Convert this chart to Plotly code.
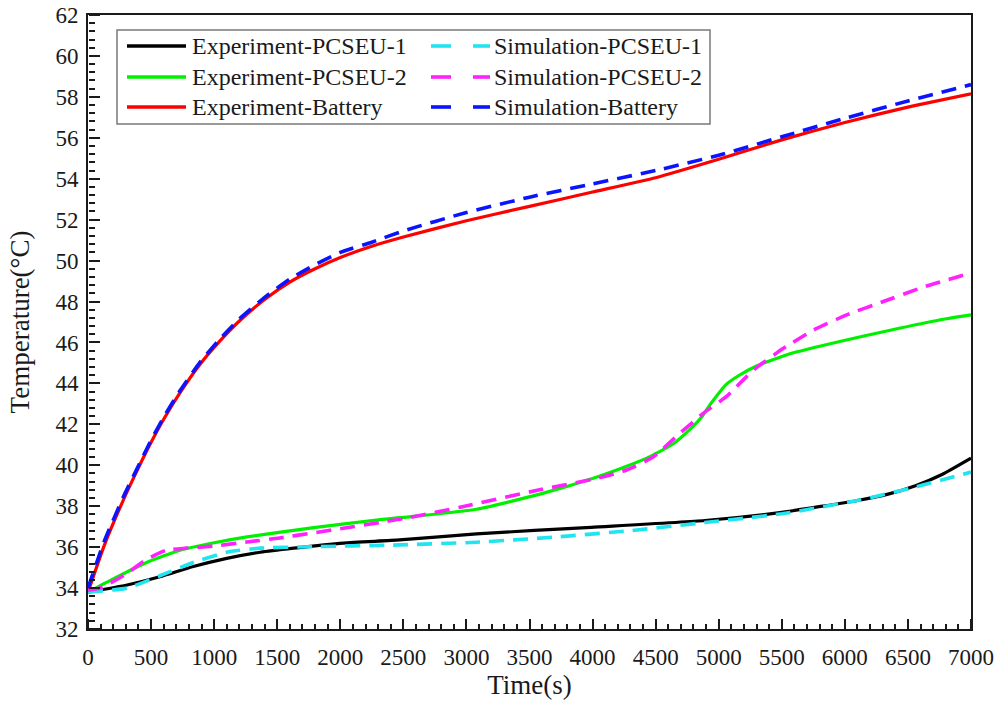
import plotly.graph_objects as go

# Time (s) and temperature (°C) series
t_exp_bat = [0, 130, 280, 390, 490, 600, 730, 890, 1050, 1200, 1400, 1600, 1800, 2000, 2250,
             2500, 3000, 3500, 4000, 4500, 5000, 5500, 6000, 6500, 7000]
T_exp_bat = [33.8, 36.1, 38.3, 39.75, 41.0, 42.25, 43.55, 44.95, 46.1, 47.05, 48.1, 48.95, 49.6, 50.15, 50.7,
             51.15, 51.95, 52.65, 53.35, 54.05, 54.95, 55.9, 56.75, 57.5, 58.15]

t_sim_bat = [0, 130, 280, 390, 490, 600, 730, 890, 1050, 1200, 1400, 1600, 1800, 2000, 2250,
             2500, 3000, 3500, 4000, 4500, 5000, 5500, 6000, 6500, 7000]
T_sim_bat = [34.0, 36.3, 38.45, 39.85, 41.1, 42.35, 43.65, 45.05, 46.2, 47.15, 48.2, 49.1, 49.8, 50.4, 50.9,
             51.45, 52.35, 53.1, 53.75, 54.4, 55.15, 56.05, 56.95, 57.8, 58.6]

t_exp_2 = [0, 200, 465, 730, 990, 1260, 1790, 2320, 2500, 3080, 3590, 4000, 4250, 4455, 4640, 4780,
           4870, 4930, 4985, 5060, 5150, 5300, 5565, 5960, 6360, 6750, 7000]
T_exp_2 = [33.8, 34.45, 35.25, 35.85, 36.2, 36.5, 36.95, 37.35, 37.45, 37.85, 38.6, 39.35, 39.9, 40.42,
           41.05, 41.8, 42.4, 42.95, 43.4, 43.95, 44.35, 44.85, 45.45, 46.05, 46.6, 47.1, 47.35]

t_sim_2 = [0, 95, 280, 465, 620, 780, 990, 1260, 1520, 1790, 2050, 2315, 2550, 2950, 3580, 4030, 4270,
           4480, 4690, 4880, 5060, 5275, 5510, 5750, 6015, 6305, 6620, 7000]
T_sim_2 = [33.9, 34.0, 34.6, 35.4, 35.85, 35.95, 36.05, 36.25, 36.45, 36.7, 36.95, 37.2, 37.45, 37.95,
           38.8, 39.35, 39.77, 40.4, 41.55, 42.55, 43.35, 44.65, 45.7, 46.6, 47.35, 48.0, 48.7, 49.4]

t_exp_1 = [0, 310, 570, 835, 1100, 1365, 1630, 2025, 2470, 3080, 3990, 4890, 5500, 6100, 6350, 6560, 6770, 7000]
T_exp_1 = [33.8, 34.15, 34.55, 35.05, 35.45, 35.75, 35.95, 36.2, 36.35, 36.65, 36.97, 37.3, 37.7, 38.28,
           38.6, 39.0, 39.55, 40.35]

t_sim_1 = [0, 310, 570, 835, 1100, 1365, 1760, 2420, 3080, 3680, 4290, 4890, 5500, 6100, 6560, 7000]
T_sim_1 = [33.8, 34.0, 34.6, 35.25, 35.75, 35.95, 36.02, 36.1, 36.24, 36.48, 36.8, 37.2, 37.63, 38.28,
           38.94, 39.67]

X_RANGE = [0, 7000]
Y_RANGE = [32, 62]

FONT = "Liberation Serif, Times New Roman, serif"
INK = "#1a1a1a"
DASH = "15px,9px"

series = [
    ("Experiment-PCSEU-1", t_exp_1, T_exp_1, "#000000", "solid"),
    ("Experiment-PCSEU-2", t_exp_2, T_exp_2, "#00f000", "solid"),
    ("Experiment-Battery", t_exp_bat, T_exp_bat, "#ff0000", "solid"),
    ("Simulation-PCSEU-1", t_sim_1, T_sim_1, "#22e4f0", DASH),
    ("Simulation-PCSEU-2", t_sim_2, T_sim_2, "#ff22ff", DASH),
    ("Simulation-Battery", t_sim_bat, T_sim_bat, "#0a14ff", DASH),
]

# experiment curves first, dashed simulation curves on top
fig = go.Figure()
for name, tx, ty, color, dash in series:
    fig.add_trace(go.Scatter(
        x=tx, y=ty, mode="lines", name=name, showlegend=False,
        line=dict(color=color, width=3.2 if dash == "solid" else 3.6, dash=dash,
                  shape="spline", smoothing=0.5),
    ))

# empty trace that carries the tick-only overlay axes
fig.add_trace(go.Scatter(x=[], y=[], xaxis="x2", yaxis="y2", showlegend=False, hoverinfo="skip"))

# plot area in pixels
L, R, T, B = 88, 971, 15, 629
W, H = R - L, B - T


def px(x):
    return (x - L) / W


def py(y):
    return (B - y) / H


# two-column legend box
shapes = [dict(type="rect", xref="paper", yref="paper",
               x0=px(117), x1=px(710), y0=py(124), y1=py(30),
               line=dict(color="#7a7a7a", width=1.5), fillcolor="white", layer="above")]
annotations = []
rows = [46, 77, 107]
for i, (name, tx, ty, color, dash) in enumerate(series):
    col = i // 3
    yy = py(rows[i % 3])
    if col == 0:
        shapes.append(dict(type="line", xref="paper", yref="paper", x0=px(127), x1=px(186),
                           y0=yy, y1=yy, line=dict(color=color, width=3.6), layer="above"))
        tx0 = 190
    else:
        for a, b in [(431, 451), (473, 490)]:
            shapes.append(dict(type="line", xref="paper", yref="paper", x0=px(a), x1=px(b),
                               y0=yy, y1=yy, line=dict(color=color, width=3.6), layer="above"))
        tx0 = 492
    annotations.append(dict(xref="paper", yref="paper", x=px(tx0), y=yy, xanchor="left",
                            yanchor="middle", text=name, showarrow=False,
                            font=dict(family=FONT, size=24, color=INK)))

tick_style = dict(tickwidth=2, tickcolor=INK)

fig.update_layout(
    width=998, height=702,
    margin=dict(l=L, r=998 - R, t=T, b=702 - B, autoexpand=False),
    paper_bgcolor="white", plot_bgcolor="white",
    # labelled frame axes
    xaxis=dict(range=X_RANGE, tick0=0, dtick=500, ticks="",
               showline=True, linecolor=INK, linewidth=2, mirror=True,
               showgrid=False, zeroline=False, automargin=False, ticklabelstandoff=6,
               tickfont=dict(family=FONT, size=23, color=INK),
               title=dict(text="Time(s)", font=dict(family=FONT, size=27, color=INK), standoff=6)),
    yaxis=dict(range=Y_RANGE, tick0=32, dtick=2, ticks="",
               showline=True, linecolor=INK, linewidth=2, mirror=True,
               showgrid=False, zeroline=False, automargin=False, ticklabelstandoff=3,
               tickfont=dict(family=FONT, size=23, color=INK),
               title=dict(text="Temperature(°C)", font=dict(family=FONT, size=27, color=INK), standoff=18)),
    # tick marks pointing into the plot from the bottom and left edges
    xaxis2=dict(range=X_RANGE, overlaying="x", anchor="free", position=0, side="top",
                tick0=0, dtick=500, ticks="outside", ticklen=10, **tick_style,
                minor=dict(dtick=100, ticks="outside", ticklen=5, **tick_style),
                showticklabels=False, showline=False, showgrid=False, zeroline=False),
    yaxis2=dict(range=Y_RANGE, overlaying="y", anchor="free", position=0, side="right",
                tick0=32, dtick=2, ticks="outside", ticklen=11, **tick_style,
                minor=dict(tick0=32, dtick=0.4, ticks="outside", ticklen=6, **tick_style),
                showticklabels=False, showline=False, showgrid=False, zeroline=False),
    shapes=shapes,
    annotations=annotations,
)

fig.write_html("out.html")
